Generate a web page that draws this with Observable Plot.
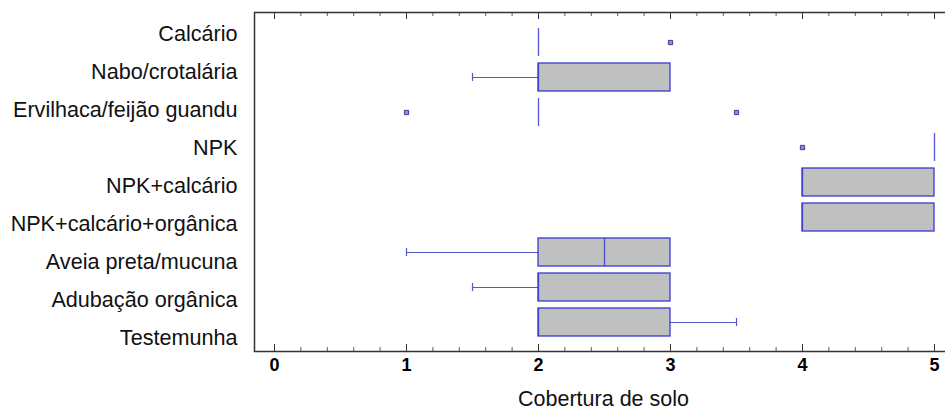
<!DOCTYPE html>
<html>
<head>
<meta charset="utf-8">
<script src="https://cdn.jsdelivr.net/npm/d3@7"></script>
<script src="https://cdn.jsdelivr.net/npm/@observablehq/plot@0.6"></script>
<style>
  html, body { margin: 0; padding: 0; background: #fff; }
  #wrap { position: relative; width: 945px; height: 412px; overflow: hidden; background: #fff; }
  #wrap svg { position: absolute; left: 0; top: 0; max-width: none !important; height: auto; }
</style>
</head>
<body>
<div id="wrap"></div>
<script>
// ---- data ----
const categories = ["Calcário", "Nabo/crotalária", "Ervilhaca/feijão guandu", "NPK", "NPK+calcário",
  "NPK+calcário+orgânica", "Aveia preta/mucuna", "Adubação orgânica", "Testemunha"];
const q1Values     = [2, 2,   2, 5, 4, 4, 2,   2,   2];
const medianValues = [2, 2,   2, 5, 4, 4, 2.5, 2,   2];
const q3Values     = [2, 3,   2, 5, 5, 5, 3,   3,   3];
const lowValues    = [2, 1.5, 2, 5, 4, 4, 1,   1.5, 2];
const highValues   = [2, 3,   2, 5, 5, 5, 3,   3,   3.5];
const outlierCategories = ["Calcário", "Ervilhaca/feijão guandu", "Ervilhaca/feijão guandu", "NPK"];
const outlierValues     = [3, 1, 3.5, 4];
const majorTicks = [0, 1, 2, 3, 4, 5];
const tickLabels = ["0", "1", "2", "3", "4", "5"];
const minorTicks = [0.2, 0.4, 0.6, 0.8, 1.2, 1.4, 1.6, 1.8, 2.2, 2.4, 2.6, 2.8,
  3.2, 3.4, 3.6, 3.8, 4.2, 4.4, 4.6, 4.8];
const xTitle = "Cobertura de solo";

// ---- tables ----
const boxes = categories.map((c, i) => ({cat: c, q1: q1Values[i], med: medianValues[i], q3: q3Values[i],
  lo: lowValues[i], hi: highValues[i]}));
const outliers = outlierCategories.map((c, i) => ({cat: c, v: outlierValues[i]}));

// ---- layout / style ----
const W = 952, H = 412, mTop = 12, mBottom = 61, mLeft = 254;
const frameH = H - mTop - mBottom;
const BLUE = "#3a3ad0", WHISK = "#5656cc", FILL = "#c0c0c0", AXIS = "#333";
const font = "Arial, 'Liberation Sans', sans-serif";

const chart = Plot.plot({
  width: W, height: H,
  marginTop: mTop, marginBottom: mBottom, marginLeft: mLeft, marginRight: 0,
  style: {fontFamily: font, background: "transparent", maxWidth: "none"},
  x: {domain: [0, 5], insetLeft: 20, insetRight: 18, axis: null},
  y: {type: "band", domain: categories, paddingInner: 0.21, paddingOuter: 0.38, axis: null},
  marks: [
    // whiskers
    Plot.ruleY(boxes.filter(d => d.lo < d.q1), {y: "cat", x1: "lo", x2: "q1", stroke: WHISK, strokeWidth: 1.2}),
    Plot.ruleY(boxes.filter(d => d.hi > d.q3), {y: "cat", x1: "q3", x2: "hi", stroke: WHISK, strokeWidth: 1.2}),
    Plot.tickX(boxes.filter(d => d.lo < d.q1), {y: "cat", x: "lo", stroke: WHISK, strokeWidth: 1.2, insetTop: 10, insetBottom: 10}),
    Plot.tickX(boxes.filter(d => d.hi > d.q3), {y: "cat", x: "hi", stroke: WHISK, strokeWidth: 1.2, insetTop: 10, insetBottom: 10}),
    // boxes
    Plot.barX(boxes.filter(d => d.q3 > d.q1), {y: "cat", x1: "q1", x2: "q3", fill: FILL, stroke: BLUE, strokeWidth: 1.3}),
    // medians
    Plot.tickX(boxes, {y: "cat", x: "med", stroke: BLUE, strokeWidth: 1.3, strokeOpacity: 0.85}),
    // outliers
    Plot.dot(outliers, {y: "cat", x: "v", symbol: "square", r: 2.4, fill: "#9090d0", stroke: "#3a3a98", strokeWidth: 1}),
    // frame
    Plot.frame({stroke: AXIS, strokeWidth: 1.5}),
    // ticks (inside, top and bottom)
    Plot.ruleX(majorTicks, {x: d => d, stroke: AXIS, insetTop: frameH - 7}),
    Plot.ruleX(minorTicks, {x: d => d, stroke: AXIS, strokeOpacity: 0.8, insetTop: frameH - 4}),
    Plot.ruleX(majorTicks, {x: d => d, stroke: AXIS, insetBottom: frameH - 7}),
    Plot.ruleX(minorTicks, {x: d => d, stroke: AXIS, strokeOpacity: 0.8, insetBottom: frameH - 4}),
    // tick labels
    Plot.axisX(majorTicks, {anchor: "bottom", tickSize: 0, tickPadding: 7, tickFormat: (d, i) => tickLabels[i],
      fontSize: 18, fontWeight: "bold", fill: "#000", label: null}),
    // axis title
    Plot.text([xTitle], {frameAnchor: "bottom", text: d => d, dy: 54, fontSize: 21.5, fill: "#111"})
  ]
});

const labels = Plot.plot({
  width: mLeft, height: H,
  marginTop: 11.7, marginBottom: 52.7, marginLeft: 0, marginRight: 17,
  style: {fontFamily: font, background: "transparent", maxWidth: "none"},
  x: {axis: null},
  y: {type: "band", domain: categories, padding: 0, axis: null},
  marks: [
    Plot.text(categories, {y: d => d, text: d => d, frameAnchor: "right", textAnchor: "end", fontSize: 21.6, fill: "#111"})
  ]
});

const wrap = document.getElementById("wrap");
wrap.appendChild(chart);
wrap.appendChild(labels);
</script>
</body>
</html>
